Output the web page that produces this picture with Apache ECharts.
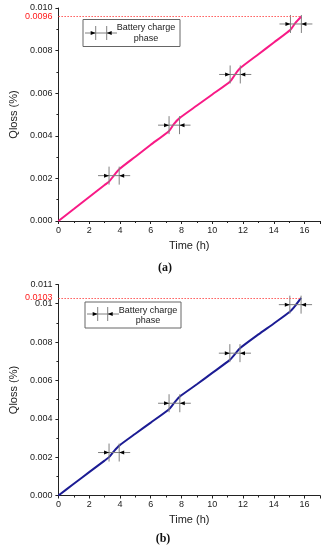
<!DOCTYPE html>
<html>
<head>
<meta charset="utf-8">
<script src="https://cdn.jsdelivr.net/npm/echarts@6/dist/echarts.min.js"></script>
<style>
html,body{margin:0;padding:0;background:#fff;}
#chart{width:324px;height:550px;}
</style>
</head>
<body>
<div id="chart"></div>
<script>
// ---- data ----
var timeA = [0, 1, 2, 3, 3.29, 3.6, 3.95, 5, 6, 7.19, 7.5, 7.87, 9, 10, 11.16, 11.5, 11.82, 13, 14, 15.08, 15.4, 15.79];
var lossA = [0, 0.00056, 0.00113, 0.00169, 0.00185, 0.00213, 0.00243, 0.00302, 0.00358, 0.00423, 0.00455, 0.00483, 0.00542, 0.00594, 0.00655, 0.00690, 0.00718, 0.00783, 0.00838, 0.00898, 0.00930, 0.0096];
var timeB = [0, 1, 2, 3, 3.29, 3.6, 3.95, 5, 6, 7.19, 7.5, 7.89, 9, 10, 11.14, 11.5, 11.8, 13, 14, 15.04, 15.4, 15.77];
var lossB = [0, 0.00061, 0.00122, 0.00182, 0.0020, 0.0023, 0.0026, 0.00322, 0.0038, 0.0045, 0.0048, 0.00516, 0.0058, 0.00639, 0.00707, 0.0074, 0.00768, 0.0084, 0.00897, 0.00958, 0.0099, 0.0103];

var chargeStartA = [3.29, 7.19, 11.16, 15.08];
var chargeEndA   = [3.95, 7.87, 11.82, 15.79];
var chargeLevelA = [0.00213, 0.0045, 0.00688, 0.00925];
var chargeStartB = [3.29, 7.19, 11.14, 15.04];
var chargeEndB   = [3.95, 7.89, 11.80, 15.77];
var chargeLevelB = [0.00224, 0.00481, 0.00742, 0.00995];

var maxLossA = 0.0096, maxLossB = 0.0103;
var xTicks = [0, 2, 4, 6, 8, 10, 12, 14, 16];
var yTicksA = ['0.000', '0.002', '0.004', '0.006', '0.008', '0.010'];
var yTicksB = ['0.000', '0.002', '0.004', '0.006', '0.008', '0.01', '0.011'];
var legendText = ['Battery charge', 'phase'];
var xName = 'Time (h)', yName = 'Qloss (%)';
var panelNames = ['(a)', '(b)'];

// ---- build ----
function zip(a, b) { return a.map(function (v, i) { return [v, b[i]]; }); }
function charges(s, e, l) { return s.map(function (v, i) { return [v, e[i], l[i]]; }); }

var FONT = 'Liberation Sans, Arial, sans-serif';

function renderCharge(params, api) {
  var p1 = api.coord([api.value(0), api.value(2)]);
  var p2 = api.coord([api.value(1), api.value(2)]);
  var y = p1[1], x1 = p1[0], x2 = p2[0];
  var gray = '#808080';
  return {
    type: 'group',
    children: [
      {type: 'line', shape: {x1: x1 - 11, y1: y, x2: x2 + 11, y2: y}, style: {stroke: gray, lineWidth: 1}},
      {type: 'line', shape: {x1: x1, y1: y - 9, x2: x1, y2: y + 9}, style: {stroke: gray, lineWidth: 1}},
      {type: 'line', shape: {x1: x2, y1: y - 9, x2: x2, y2: y + 9}, style: {stroke: gray, lineWidth: 1}},
      {type: 'polygon', shape: {points: [[x1, y], [x1 - 5, y - 2], [x1 - 5, y + 2]]}, style: {fill: '#000'}},
      {type: 'polygon', shape: {points: [[x2, y], [x2 + 5, y - 2], [x2 + 5, y + 2]]}, style: {fill: '#000'}}
    ]
  };
}

function xAxisOpt(gi) {
  return {
    type: 'value', gridIndex: gi, min: 0, max: 17, interval: 2,
    name: xName, nameLocation: 'middle', nameGap: 19,
    nameTextStyle: {fontFamily: FONT, fontSize: 11, color: '#222'},
    axisLine: {lineStyle: {color: '#222', width: 1}},
    axisTick: {show: true, length: 3, lineStyle: {color: '#222'}},
    minorTick: {show: true, splitNumber: 2, length: 2, lineStyle: {color: '#222'}},
    splitLine: {show: false},
    axisLabel: {fontFamily: FONT, fontSize: 9, color: '#222', margin: 5, showMaxLabel: false,
      formatter: function (v) { return xTicks.indexOf(Math.round(v)) >= 0 ? String(Math.round(v)) : ''; }}
  };
}

function yAxisOpt(gi, max, labels) {
  return {
    type: 'value', gridIndex: gi, min: 0, max: max, interval: 0.002,
    name: yName, nameLocation: 'middle', nameGap: 39,
    nameTextStyle: {fontFamily: FONT, fontSize: 11, color: '#222'},
    axisLine: {show: true, lineStyle: {color: '#222', width: 1}},
    axisTick: {show: true, length: 3, lineStyle: {color: '#222'}},
    minorTick: {show: true, splitNumber: 2, length: 2, lineStyle: {color: '#222'}},
    splitLine: {show: false},
    axisLabel: {fontFamily: FONT, fontSize: 9, color: '#222', margin: 6,
      formatter: function (v) {
        var idx = Math.round(v / 0.002);
        if (Math.abs(v - idx * 0.002) < 1e-9) return labels[idx] || '';
        return labels[labels.length - 1];
      }}
  };
}

function lineSeries(gi, data, color, maxVal, endT) {
  return {
    type: 'line', xAxisIndex: gi, yAxisIndex: gi, data: data,
    showSymbol: false, symbol: 'none', smooth: 0.2,
    lineStyle: {color: color, width: 2}, itemStyle: {color: color},
    z: 3,
    markLine: {
      silent: true, symbol: 'none', animation: false,
      lineStyle: {color: '#ff5a5a', type: [1.5, 1.5], width: 1},
      label: {show: true, position: 'start', distance: 6, color: '#ff1a1a',
        fontFamily: FONT, fontSize: 9, formatter: String(maxVal)},
      data: [[{coord: [0, maxVal]}, {coord: [endT, maxVal]}]]
    }
  };
}

function chargeSeries(gi, data) {
  return {
    type: 'custom', xAxisIndex: gi, yAxisIndex: gi, data: data,
    encode: {x: [0, 1], y: 2}, renderItem: renderCharge, clip: false, z: 4, silent: true
  };
}

function legendGraphic(bx, by, bw, bh, my, v1, v2, ty1, ty2) {
  var gray = '#808080';
  return [
    {type: 'rect', shape: {x: bx, y: by, width: bw, height: bh}, style: {fill: '#fff', stroke: '#666', lineWidth: 1}, z: 10},
    {type: 'line', shape: {x1: bx + 2, y1: my, x2: bx + 34, y2: my}, style: {stroke: gray, lineWidth: 1}, z: 11},
    {type: 'line', shape: {x1: v1, y1: my - 7, x2: v1, y2: my + 7}, style: {stroke: gray, lineWidth: 1}, z: 11},
    {type: 'line', shape: {x1: v2, y1: my - 7, x2: v2, y2: my + 7}, style: {stroke: gray, lineWidth: 1}, z: 11},
    {type: 'polygon', shape: {points: [[v1, my], [v1 - 5, my - 2], [v1 - 5, my + 2]]}, style: {fill: '#000'}, z: 11},
    {type: 'polygon', shape: {points: [[v2, my], [v2 + 5, my - 2], [v2 + 5, my + 2]]}, style: {fill: '#000'}, z: 11},
    {type: 'text', x: bx + 63, y: ty1, style: {text: legendText[0], fill: '#222', font: '9px ' + FONT, align: 'center', verticalAlign: 'middle'}, z: 11},
    {type: 'text', x: bx + 63, y: ty2, style: {text: legendText[1], fill: '#222', font: '9px ' + FONT, align: 'center', verticalAlign: 'middle'}, z: 11}
  ];
}

var chart = echarts.init(document.getElementById('chart'), null, {renderer: 'canvas'});
chart.setOption({
  animation: false,
  backgroundColor: '#fff',
  grid: [
    {left: 54, top: 8, width: 266, height: 213},
    {left: 54, top: 284.5, width: 266, height: 211}
  ],
  xAxis: [xAxisOpt(0), xAxisOpt(1)],
  yAxis: [yAxisOpt(0, 0.010, yTicksA), yAxisOpt(1, 0.011, yTicksB)],
  series: [
    lineSeries(0, zip(timeA, lossA), '#f81a86', maxLossA, timeA[timeA.length - 1]),
    chargeSeries(0, charges(chargeStartA, chargeEndA, chargeLevelA)),
    lineSeries(1, zip(timeB, lossB), '#1c1c94', maxLossB, timeB[timeB.length - 1]),
    chargeSeries(1, charges(chargeStartB, chargeEndB, chargeLevelB))
  ],
  graphic: legendGraphic(83, 19.5, 97, 27, 33, 95.7, 106.7, 28, 39)
    .concat(legendGraphic(85, 302, 96, 26, 314, 97.7, 107.7, 310.5, 321))
    .concat([
      {type: 'text', x: 165, y: 268, style: {text: panelNames[0], fill: '#111', font: 'bold 12px Liberation Serif, Times New Roman, serif', align: 'center', verticalAlign: 'middle'}},
      {type: 'text', x: 163, y: 539, style: {text: panelNames[1], fill: '#111', font: 'bold 12px Liberation Serif, Times New Roman, serif', align: 'center', verticalAlign: 'middle'}}
    ])
});
</script>
</body>
</html>
